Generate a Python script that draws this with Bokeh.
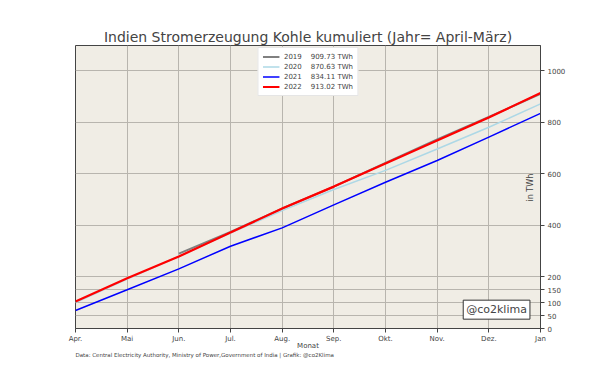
import math
from bokeh.plotting import figure
from bokeh.models import FixedTicker, Label, Legend, LegendItem, Title, ColumnDataSource
from bokeh.embed import file_html
from bokeh.resources import INLINE

months = ["Apr.", "Mai", "Jun.", "Jul.", "Aug.", "Sep.", "Okt.", "Nov.", "Dez.", "Jan"]
month_idx = list(range(len(months)))

v2019 = [float("nan"), float("nan"), 290, 374, 465, 550, 642, 733, 820, 909.73]
v2020 = [101, 192, 280, 370, 457, 539, 613, 696, 780, 870.63]
v2021 = [70, 150, 231, 319, 390, 479, 567, 651, 742, 834.11]
v2022 = [105, 195, 279, 372, 465, 550, 640, 729, 818, 913.02]

series = [
    ("2019", v2019, "#808080", 2.0),
    ("2020", v2020, "#add8e6", 1.5),
    ("2021", v2021, "#0000ff", 1.5),
    ("2022", v2022, "#ff0000", 2.2),
]
yticks = [0, 50, 100, 150, 200, 400, 600, 800, 1000]

FONT = "DejaVu Sans"

p = figure(width=600, height=372, output_backend="svg", toolbar_location=None,
           x_range=(0, 9), y_range=(0, 1097), y_axis_location="right",
           min_border_left=75, min_border_right=60, min_border_top=45, min_border_bottom=44)
p.title.text = "Indien Stromerzeugung Kohle kumuliert (Jahr= April-März)"
p.title.align = "center"
p.title.text_font = FONT
p.title.text_font_size = "14px"
p.title.text_font_style = "normal"
p.title.standoff = 2

p.background_fill_color = "#f0ede5"
p.border_fill_color = "white"
p.outline_line_color = "#444444"
p.outline_line_width = 1

items = []
for name, vals, color, lw in series:
    src = ColumnDataSource(dict(x=month_idx, y=vals))
    r = p.line("x", "y", source=src, line_color=color, line_width=lw)
    items.append(LegendItem(label="%s\u00a0\u00a0\u00a0\u00a0%.2f TWh" % (name, vals[-1]), renderers=[r]))

legend = Legend(items=items, location="top_center", label_text_font=FONT,
                label_text_font_size="7px", glyph_width=17, glyph_height=9,
                label_height=9, spacing=1, padding=4, margin=2,
                border_line_color="#cccccc", background_fill_color="white",
                background_fill_alpha=1.0, label_standoff=5)
p.add_layout(legend, "center")

xa = p.xaxis[0]
xa.ticker = FixedTicker(ticks=month_idx)
xa.major_label_overrides = {i: m for i, m in enumerate(months)}
xa.axis_label = "Monat"
xa.axis_label_text_font = FONT
xa.axis_label_text_font_size = "7px"
xa.axis_label_text_font_style = "normal"
xa.axis_label_standoff = -4
xa.major_label_text_font = FONT
xa.major_label_text_font_size = "7px"
xa.major_tick_in = 0
xa.major_tick_out = 4
xa.minor_tick_line_color = None
xa.axis_line_color = "#444444"
xa.major_tick_line_color = "#444444"
xa.major_label_standoff = 2

ya = p.yaxis[0]
ya.ticker = FixedTicker(ticks=yticks)
ya.major_label_text_font = FONT
ya.major_label_text_font_size = "7px"
ya.major_tick_in = 0
ya.major_tick_out = 4
ya.minor_tick_line_color = None
ya.axis_line_color = "#444444"
ya.major_tick_line_color = "#444444"
ya.major_label_standoff = 3

p.xgrid.ticker = FixedTicker(ticks=month_idx)
p.ygrid.ticker = FixedTicker(ticks=yticks)
p.grid.grid_line_color = "#b8b5ae"
p.grid.grid_line_width = 1

p.add_layout(Label(x=8.81, y=546, text="in TWh", angle=math.pi / 2, text_align="center",
                   text_baseline="middle", text_font=FONT, text_font_size="8px"))

p.add_layout(Label(x=8.15, y=73, text="@co2klima", text_align="center", text_baseline="middle",
                   text_font=FONT, text_font_size="11px", border_line_color="#333333",
                   background_fill_color="white", padding=3))

foot = Title(text="Data: Central Electricity Authority, Ministry of Power,Government of India | Grafik: @co2Klima",
             align="left", text_font=FONT, text_font_size="5.5px", text_font_style="normal",
             standoff=-6, offset=0)
p.add_layout(foot, "below")

open("out.html", "w").write(file_html(p, INLINE))
